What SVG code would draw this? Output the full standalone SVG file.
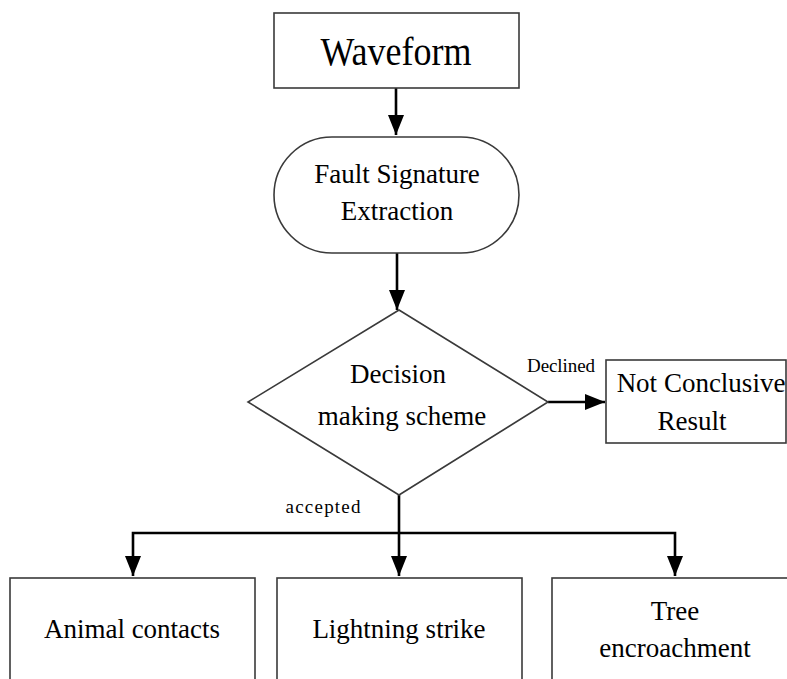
<svg xmlns="http://www.w3.org/2000/svg" width="787" height="679" viewBox="0 0 787 679">
<defs>
<marker id="ah" markerUnits="userSpaceOnUse" markerWidth="20" markerHeight="16" refX="20" refY="8" orient="auto">
<path d="M0,0 L20,8 L0,16 z" fill="#000"/>
</marker>
<style>
.shape{fill:#fff;stroke:#3a3a3a;stroke-width:1.6}
.conn{fill:none;stroke:#000;stroke-width:2.6}
text{font-family:"Liberation Serif","Times New Roman",serif;fill:#000;text-anchor:middle}
.big{font-size:27px}
.lbl{font-size:19px}
</style>
</defs>
<rect width="787" height="679" fill="#fff"/>
<g id="connectors">
<path class="conn" d="M396,88 V135" marker-end="url(#ah)"/>
<path class="conn" d="M397,253 V310" marker-end="url(#ah)"/>
<path class="conn" d="M548,402 H605" marker-end="url(#ah)"/>
<path class="conn" d="M399,495 V576" marker-end="url(#ah)"/>
<path class="conn" d="M399,533 H133 V576" marker-end="url(#ah)"/>
<path class="conn" d="M399,533 H675 V576" marker-end="url(#ah)"/>
<text class="lbl" x="561" y="372" textLength="68">Declined</text>
<text class="lbl" x="323" y="513" textLength="75">accepted</text>
</g>
<g id="waveform">
<rect class="shape" x="274" y="13" width="245" height="75"/>
<text x="396" y="65" style="font-size:39px" textLength="151" lengthAdjust="spacingAndGlyphs">Waveform</text>
</g>
<g id="extraction">
<rect class="shape" x="274" y="137" width="245" height="116" rx="58" ry="58"/>
<text class="big" x="397" y="183">Fault Signature</text>
<text class="big" x="397" y="220">Extraction</text>
</g>
<g id="decision">
<path class="shape" d="M399,310 L548,402 L399,495 L248,402 z"/>
<text class="big" x="398" y="383">Decision</text>
<text class="big" x="402" y="425">making scheme</text>
</g>
<g id="notconclusive">
<rect class="shape" x="606" y="360" width="180" height="83"/>
<text class="big" x="701" y="392">Not Conclusive</text>
<text class="big" x="692" y="430">Result</text>
</g>
<g id="animal">
<rect class="shape" x="10" y="578" width="245" height="120"/>
<text class="big" x="132" y="638">Animal contacts</text>
</g>
<g id="lightning">
<rect class="shape" x="277" y="578" width="245" height="120"/>
<text class="big" x="399" y="638">Lightning strike</text>
</g>
<g id="tree">
<rect class="shape" x="552" y="578" width="245" height="120"/>
<text class="big" x="675" y="620">Tree</text>
<text class="big" x="675" y="657">encroachment</text>
</g>
</svg>
